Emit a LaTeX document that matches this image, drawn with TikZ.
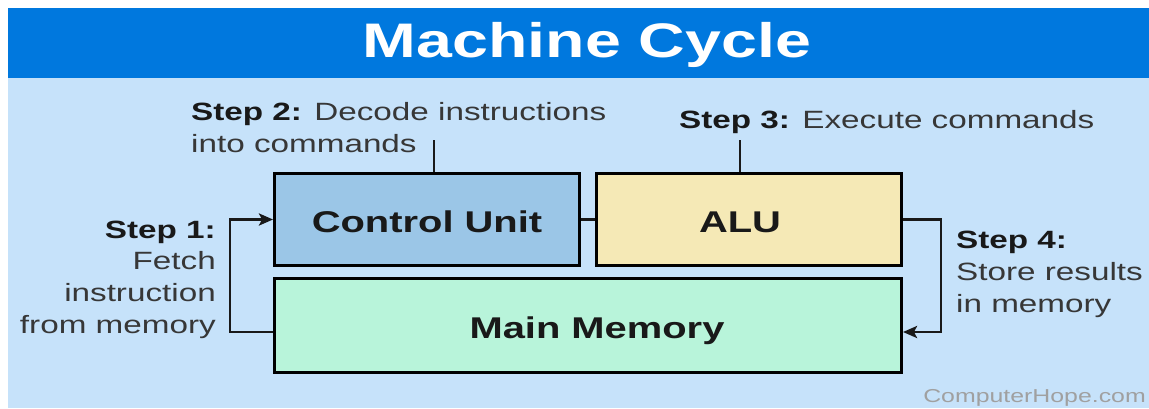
\documentclass[tikz,border=0pt]{standalone}
\usepackage{fontspec}
\setmainfont{Liberation Sans}[FakeStretch=1.33]
\usetikzlibrary{arrows.meta}
\definecolor{band}{RGB}{0,120,222}
\definecolor{bg}{RGB}{198,226,250}
\definecolor{cucol}{RGB}{155,198,231}
\definecolor{alucol}{RGB}{245,233,182}
\definecolor{mmcol}{RGB}{184,244,218}
\definecolor{steptext}{RGB}{55,55,55}
\definecolor{stepbold}{RGB}{25,25,25}
\definecolor{wm}{RGB}{160,160,160}
\newcommand\steplabel[1]{{\bfseries\color{stepbold}#1}}
\begin{document}
\begin{tikzpicture}[x=1pt,y=-1pt,
  unitbox/.style={draw=black, line width=3pt, inner sep=0pt,
    font=\fontsize{30}{30}\selectfont\bfseries, text=black!90,
    text height=26pt, text depth=0pt},
  link/.style={line width=2.7pt, draw=black!90},
  arr/.style={link, -{Stealth[length=14pt,width=12pt,inset=3pt]}},
  steptxt/.style={inner sep=0pt, font=\fontsize{25}{31.8}\selectfont, text=steptext},
]
\useasboundingbox (0,0) rectangle (1149,408);
\fill[white] (0,0) rectangle (1149,408);
\fill[band] (8,8) rectangle (1149,77.5);
\fill[bg] (8,77.5) rectangle (1149,408);

\node[text=white, font=\fontsize{48.5}{50}\selectfont\bfseries, anchor=base, inner sep=0pt] (title) at (587,57) {Machine Cycle};

\node[unitbox, fill=cucol, minimum width=305pt, minimum height=92pt] (cu) at (427,219.5) {Control Unit};
\node[unitbox, fill=alucol, minimum width=305pt, minimum height=92pt] (alu) at (749,219.5) {\hspace*{-18pt}ALU};
\node[unitbox, fill=mmcol, minimum width=627pt, minimum height=94pt] (mm) at (588,325.5) {\hspace*{18pt}Main Memory};

% multi-line nodes: base anchor = baseline of the last line
\node[steptxt, align=left, anchor=base west] (s2) at (191,152.5) {\steplabel{Step 2:} Decode instructions\\into commands};
\node[steptxt, anchor=base west] (s3) at (679,128) {\steplabel{Step 3:} Execute commands};
\node[steptxt, align=right, anchor=base east] (s1) at (216,333.5) {\steplabel{Step 1:}\\Fetch\\instruction\\from memory};
\node[steptxt, align=left, anchor=base west] (s4) at (956,312) {\steplabel{Step 4:}\\Store results\\in memory};

\node[anchor=base east, inner sep=0pt, font=\fontsize{18.7}{19}\selectfont, text=wm] (wmk) at (1146,402) {ComputerHope.com};

\coordinate (s2foot) at (434,140);
\coordinate (s3foot) at (740,140);
\coordinate (l1) at (230,332);
\coordinate (r1) at (941,332);
\draw[link] (s2foot) -- (s2foot |- cu.north);
\draw[link] (s3foot) -- (s3foot |- alu.north);
\draw[link] (cu.east) -- (alu.west);
\draw[arr] (mm.west |- l1) -- (l1) |- (cu.west);
\draw[arr] (alu.east) -| (r1) -- (mm.east |- r1);
\end{tikzpicture}
\end{document}
